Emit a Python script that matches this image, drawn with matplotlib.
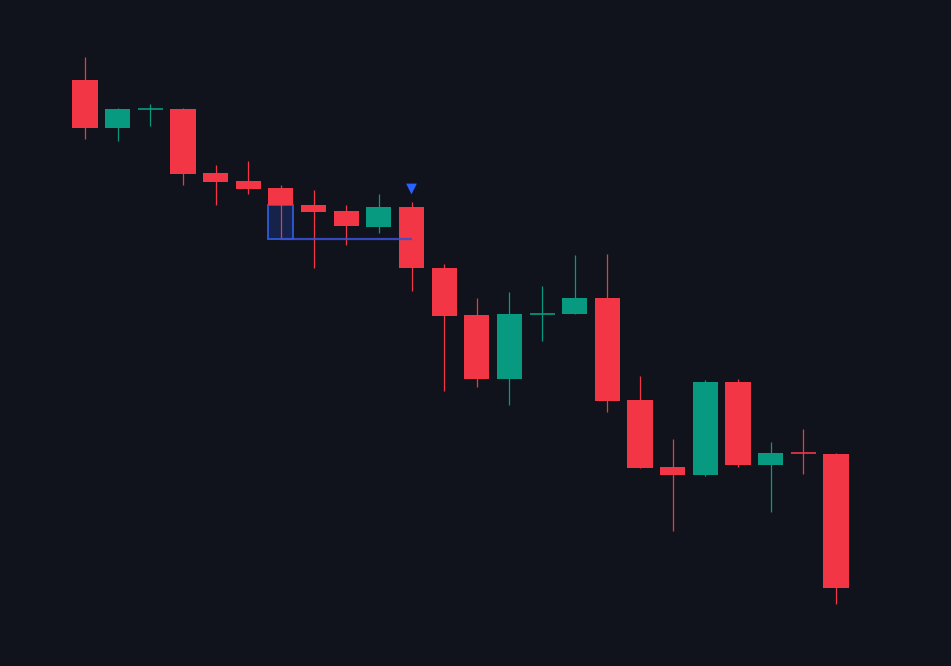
import matplotlib
matplotlib.use("Agg")
import matplotlib.pyplot as plt
from matplotlib.patches import Rectangle

# OHLC data (price units)
opens  = [122.0, 117.2, 119.05, 119.1, 112.7, 111.9, 111.2, 109.5, 108.9, 107.3, 109.3, 103.2,
          98.5, 92.1, 98.58, 98.6, 100.2, 90.0, 83.3, 82.5, 91.8, 83.5, 84.7, 84.6]
highs  = [124.3, 119.2, 119.6, 119.2, 113.5, 113.9, 111.5, 111.0, 109.5, 110.6, 109.8, 103.6,
          100.2, 100.8, 101.4, 104.5, 104.6, 92.4, 86.1, 92.0, 92.1, 85.8, 87.1, 84.7]
lows   = [116.1, 115.9, 117.4, 111.5, 109.5, 110.6, 106.1, 103.2, 105.5, 106.7, 100.9, 90.9,
          91.3, 89.5, 95.9, 98.6, 88.8, 83.2, 76.9, 82.4, 83.3, 78.8, 82.6, 69.6]
closes = [117.2, 119.1, 119.07, 112.6, 111.8, 111.1, 109.5, 108.8, 107.4, 109.3, 103.2, 98.4,
          92.1, 98.6, 98.6, 100.2, 89.9, 83.2, 82.5, 91.8, 83.5, 84.7, 84.68, 71.2]

# annotation values
zone_index = 6
zone_top, zone_bottom = 109.5, 106.1
line_start, line_end = 6, 10
marker_index, marker_price = 10, 111.1

BG = "#10131c"
UP = "#089981"
DOWN = "#f23645"
BODY_W = 0.77

fig = plt.figure(figsize=(9.51, 6.66), dpi=100, facecolor=BG)
ax = fig.add_axes([0, 0, 1, 1])
ax.set_facecolor(BG)

# zone box (under the candles)
ax.add_patch(Rectangle((zone_index - BODY_W / 2, zone_bottom), BODY_W, zone_top - zone_bottom,
                       facecolor="#15234a", edgecolor="#2e5bdc", lw=1.3, zorder=1.5))

for i, (o, h, l, c) in enumerate(zip(opens, highs, lows, closes)):
    col = UP if c >= o else DOWN
    ax.plot([i, i], [l, h], color=col, lw=0.9, solid_capstyle="butt", zorder=2)
    if abs(c - o) < 0.05:
        ax.plot([i - BODY_W / 2, i + BODY_W / 2], [o, o], color=col, lw=1.2,
                solid_capstyle="butt", zorder=3)
    else:
        ax.add_patch(Rectangle((i - BODY_W / 2, min(o, c)), BODY_W, abs(c - o),
                               facecolor=col, edgecolor="none", zorder=3))

ax.plot([line_start, line_end], [zone_bottom, zone_bottom], color="#3a50d0", lw=1.6,
        alpha=0.9, solid_capstyle="butt", zorder=4)
ax.scatter([marker_index], [marker_price], marker="v", s=60, color="#2962ff",
           edgecolors="none", zorder=5)

step = 32.65
ax.set_xlim(-85 / step, (951 - 85) / step)
ax.set_ylim(130 - 66.6, 130)
ax.axis("off")

fig.savefig("out.png", dpi=100, facecolor=BG)
